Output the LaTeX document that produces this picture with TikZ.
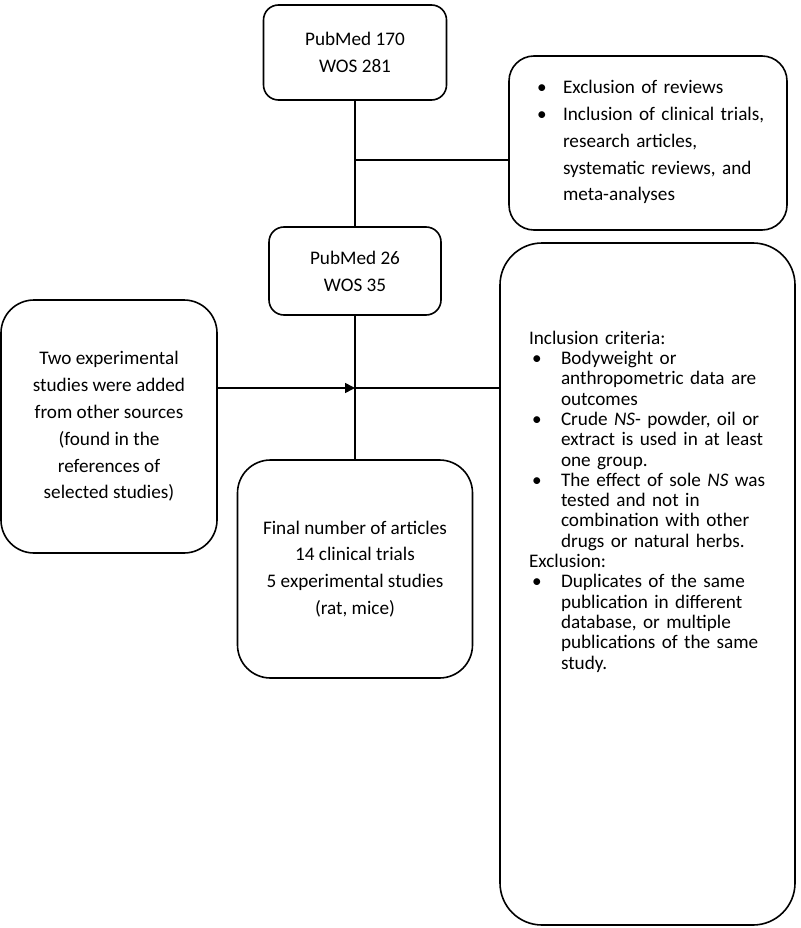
\documentclass[tikz,border=0pt]{standalone}
\usepackage{fontspec}
\setmainfont{Carlito}
\usetikzlibrary{positioning,arrows.meta}
\tikzset{main node/.style={draw,line width=1.6pt,rounded corners=15pt,align=center,inner sep=0pt,font=\fontsize{19.2}{26.8}\selectfont} }
\tikzset{list node/.style={draw,line width=1.6pt,align=left,inner ysep=0pt,font=\fontsize{19.2}{26.8}\selectfont} }
\newcommand{\nl}{\hfil\break}
\newcommand{\listitem}[2][29pt]{\par\noindent\hangindent=#1\hangafter=0\llap{\makebox[#1][l]{\hspace{3pt}\textbullet}}#2\par}

\begin{document}
\begin{tikzpicture}[x=1pt,y=-1pt]
\useasboundingbox (0,0) rectangle (800,928);
\begin{scope}[on grid]

  \node[main node,minimum width=183pt,minimum height=95pt] (1) at (355,52.5) {PubMed 170\\WOS 281};
  \node[main node,minimum width=172pt,minimum height=88pt] (3) [below=218.5pt of 1] {PubMed 26\\WOS 35};
  \node[main node,minimum width=235pt,minimum height=218pt,rounded corners=33pt] (5) [below=298pt of 3] {Final number of articles\\14 clinical trials\\5 experimental studies\\(rat, mice)};
    \node[main node,minimum width=216pt,minimum height=253pt,rounded corners=33pt] (4) at (109,426.5) {Two experimental\\studies were added\\from other sources\\(found in the\\references of\\selected studies)};

  \node[list node,text width=245pt,inner xsep=16.5pt,minimum height=174pt,rounded corners=25pt] (2) at (648,143)
    {\hyphenpenalty=10000 \leftskip=8.5pt
     \listitem{Exclusion of reviews}
     \listitem{Inclusion of clinical trials,\nl research articles,\nl systematic reviews, and\nl meta-analyses\rule[-18pt]{0pt}{1pt}}};
  \node[list node,text width=237pt,inner xsep=29pt,minimum height=682pt,rounded corners=42pt,font=\fontsize{19.2}{20.3}\selectfont] (6) at (647.5,584)
    {\hyphenpenalty=10000
     \noindent Inclusion criteria:
     \listitem[32pt]{Bodyweight or\nl anthropometric data are\nl outcomes}
     \listitem[32pt]{Crude \textit{NS}- powder, oil or\nl extract is used in at least\nl one group.}
     \listitem[32pt]{The effect of sole \textit{NS} was\nl tested and not in\nl combination with other\nl drugs or natural herbs.}
     \noindent Exclusion:
     \listitem[32pt]{Duplicates of the same\nl publication in different\nl database, or multiple\nl publications of the same\nl study.\rule[-168pt]{0pt}{1pt}}};

  \coordinate (split) at (355,160);
  \coordinate (join) at (355,388);

    \path[every edge/.style={draw,line width=1.6pt}]
    (1) edge [-] (3)
    (3) edge [-] (5)
    (split) edge [-] (split -| 2.west)
    (4.east |- join) edge [-{Triangle[length=10pt,width=10pt]}] (join)
    (join) edge [-] (join -| 6.west)
    ;
    \end{scope}
\end{tikzpicture}
\end{document}
